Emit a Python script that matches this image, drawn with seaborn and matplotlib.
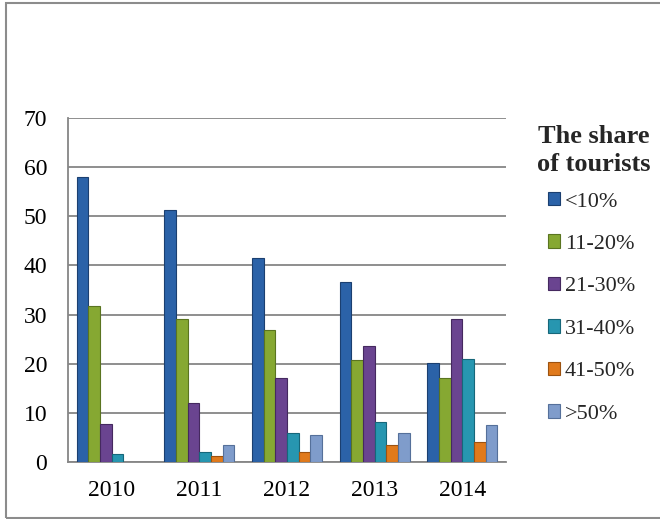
import matplotlib
matplotlib.use("Agg")
import matplotlib.pyplot as plt
import matplotlib.patches as mpatches
import seaborn as sns
import pandas as pd

years = ["2010", "2011", "2012", "2013", "2014"]
groups = ["<10%", "11-20%", "21-30%", "31-40%", "41-50%", ">50%"]
v_lt10 = [58.0, 51.2, 41.6, 36.6, 20.1]
v_11_20 = [31.7, 29.2, 26.8, 20.8, 17.1]
v_21_30 = [7.8, 12.1, 17.1, 23.7, 29.0]
v_31_40 = [1.6, 2.0, 6.0, 8.1, 21.0]
v_41_50 = [0.0, 1.2, 2.0, 3.5, 4.0]
v_gt50 = [0.0, 3.4, 5.4, 6.0, 7.6]
y_ticks = [0, 10, 20, 30, 40, 50, 60, 70]
legend_title = "The share\nof tourists"

colors = ["#2B62A8", "#86A832", "#6A4490", "#2796B0", "#E07A1C", "#7F9CCB"]
edges = ["#1B3F70", "#5A7420", "#45295F", "#16677A", "#9C5210", "#55709A"]

series = [v_lt10, v_11_20, v_21_30, v_31_40, v_41_50, v_gt50]
rows = []
for g, vals in zip(groups, series):
    for y, v in zip(years, vals):
        rows.append({"Year": y, "Share": g, "Value": v})
df = pd.DataFrame(rows)

sns.set_theme(style="white")
plt.rcParams["font.family"] = ["Liberation Serif", "DejaVu Serif"]

fig = plt.figure(figsize=(6.6, 5.19), dpi=100)
ax = fig.add_axes([68 / 660, 1 - 462 / 519, (506 - 68) / 660, (462 - 118) / 519])

sns.barplot(data=df, x="Year", y="Value", hue="Share", order=years,
            hue_order=groups, palette=colors, saturation=1, width=0.8, ax=ax,
            errorbar=None, legend=False, zorder=3)

for cont, ec in zip(ax.containers, edges):
    for bar in cont:
        bar.set_edgecolor(ec)
        bar.set_linewidth(0.8)
        if bar.get_height() == 0:
            bar.set_visible(False)

ax.set_ylim(0, 70)
ax.set_xlim(-0.5, 4.5)
ax.set_yticks(y_ticks)
ax.set_yticklabels([str(t) for t in y_ticks])
ax.set_xlabel("")
ax.set_ylabel("")
ax.yaxis.grid(True, color="#868686", linewidth=1.3, zorder=0)
ax.set_axisbelow(True)
for s in ["top", "right"]:
    ax.spines[s].set_visible(False)
for s in ["left", "bottom"]:
    ax.spines[s].set_color("#868686")
    ax.spines[s].set_linewidth(1.3)
ax.tick_params(axis="both", length=0, labelsize=17, colors="black")
ax.tick_params(axis="y", pad=15)
ax.tick_params(axis="x", pad=13)

fig.text(594 / 660, 1 - 125 / 519, legend_title, ha="center", va="top",
         fontsize=19, fontweight="bold", linespacing=1.27)

handles = [mpatches.Patch(facecolor=c, edgecolor=e, linewidth=0.8)
           for c, e in zip(colors, edges)]
leg = fig.legend(handles, groups, loc="upper left",
                 bbox_to_anchor=(548 / 660, 1 - 192 / 519),
                 frameon=False, fontsize=16,
                 handlelength=0.55, handleheight=0.55, handletextpad=0.2,
                 labelspacing=1.03, borderaxespad=0, borderpad=0)

fig.patches.append(mpatches.Rectangle((6 / 660, 1 / 519), 1.5, 1 - 4 / 519,
                                      transform=fig.transFigure, fill=False,
                                      edgecolor="#8C8C8C", linewidth=1.5))

fig.savefig("out.png", dpi=100)
